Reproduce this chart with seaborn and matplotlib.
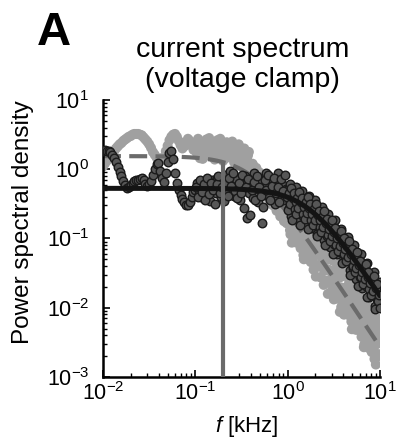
import numpy as np
import pandas as pd
import matplotlib
matplotlib.use("Agg")
import matplotlib.pyplot as plt
import seaborn as sns

# ---------------- data (log10 units) ----------------
# frequency bins, log10(f / kHz)
log_f = [
    -2.00, -1.98, -1.96, -1.94, -1.92, -1.90, -1.88, -1.86, -1.84, -1.82,
    -1.80, -1.78, -1.76, -1.74, -1.72, -1.70, -1.68, -1.66, -1.64, -1.62,
    -1.60, -1.58, -1.56, -1.54, -1.52, -1.50, -1.48, -1.46, -1.44, -1.42,
    -1.40, -1.38, -1.36, -1.34, -1.32, -1.30, -1.28, -1.26, -1.24, -1.22,
    -1.20, -1.18, -1.16, -1.14, -1.12, -1.10, -1.08, -1.06, -1.04, -1.02,
    -1.00, -0.98, -0.96, -0.94, -0.92, -0.90, -0.88, -0.86, -0.84, -0.82,
    -0.80, -0.78, -0.76, -0.74, -0.72, -0.70, -0.68, -0.66, -0.64, -0.62,
    -0.60, -0.58, -0.56, -0.54, -0.52, -0.50, -0.48, -0.46, -0.44, -0.42,
    -0.40, -0.38, -0.36, -0.34, -0.32, -0.30, -0.28, -0.26, -0.24, -0.22,
    -0.20, -0.18, -0.16, -0.14, -0.12, -0.10, -0.08, -0.06, -0.04, -0.02,
    0.00, 0.01, 0.02, 0.03, 0.04, 0.05, 0.06, 0.07, 0.08, 0.09,
    0.10, 0.11, 0.12, 0.13, 0.14, 0.15, 0.16, 0.17, 0.18, 0.19,
    0.20, 0.21, 0.22, 0.23, 0.24, 0.25, 0.26, 0.27, 0.28, 0.29,
    0.30, 0.31, 0.32, 0.33, 0.34, 0.35, 0.36, 0.37, 0.38, 0.39,
    0.40, 0.41, 0.42, 0.43, 0.44, 0.45, 0.46, 0.47, 0.48, 0.49,
    0.50, 0.51, 0.52, 0.53, 0.54, 0.55, 0.56, 0.57, 0.58, 0.59,
    0.60, 0.61, 0.62, 0.63, 0.64, 0.65, 0.66, 0.67, 0.68, 0.69,
    0.70, 0.71, 0.72, 0.73, 0.74, 0.75, 0.76, 0.77, 0.78, 0.79,
    0.80, 0.81, 0.82, 0.83, 0.84, 0.85, 0.86, 0.87, 0.88, 0.89,
    0.90, 0.91, 0.92, 0.93, 0.94, 0.95, 0.96, 0.97, 0.98, 0.99,
    1.00,
    # interleaved bins
    -0.99, -0.97, -0.95, -0.93, -0.91, -0.89, -0.87, -0.85, -0.83, -0.81,
    -0.79, -0.77, -0.75, -0.73, -0.71, -0.69, -0.67, -0.65, -0.63, -0.61,
    -0.59, -0.57, -0.55, -0.53, -0.51, -0.49, -0.47, -0.45, -0.43, -0.41,
    -0.39, -0.37, -0.35, -0.33, -0.31, -0.29, -0.27, -0.25, -0.23, -0.21,
    -0.19, -0.17, -0.15, -0.13, -0.11, -0.09, -0.07, -0.05, -0.03, -0.01,
    0.005, 0.015, 0.025, 0.035, 0.045, 0.055, 0.065, 0.075, 0.085, 0.095,
    0.105, 0.115, 0.125, 0.135, 0.145, 0.155, 0.165, 0.175, 0.185, 0.195,
    0.205, 0.215, 0.225, 0.235, 0.245, 0.255, 0.265, 0.275, 0.285, 0.295,
    0.305, 0.315, 0.325, 0.335, 0.345, 0.355, 0.365, 0.375, 0.385, 0.395,
    0.405, 0.415, 0.425, 0.435, 0.445, 0.455, 0.465, 0.475, 0.485, 0.495,
    0.505, 0.515, 0.525, 0.535, 0.545, 0.555, 0.565, 0.575, 0.585, 0.595,
    0.605, 0.615, 0.625, 0.635, 0.645, 0.655, 0.665, 0.675, 0.685, 0.695,
    0.705, 0.715, 0.725, 0.735, 0.745, 0.755, 0.765, 0.775, 0.785, 0.795,
    0.805, 0.815, 0.825, 0.835, 0.845, 0.855, 0.865, 0.875, 0.885, 0.895,
    0.905, 0.915, 0.925, 0.935, 0.945, 0.955, 0.965, 0.975, 0.985, 0.995,
]

# light-grey spectrum (dashed Lorentzian fit), log10 PSD
grey_log_psd = [
    0.04, 0.08, 0.12, 0.16, 0.19, 0.23, 0.26, 0.30, 0.33, 0.36,
    0.38, 0.41, 0.43, 0.45, 0.47, 0.48, 0.50, 0.51, 0.51, 0.51,
    0.50, 0.49, 0.46, 0.43, 0.40, 0.36, 0.31, 0.25, 0.21, 0.17,
    0.13, 0.12, 0.14, 0.18, 0.26, 0.34, 0.42, 0.47, 0.50, 0.51,
    0.47, 0.41, 0.35, 0.30, 0.33, 0.39, 0.44, 0.41, 0.34, 0.28,
    0.34, 0.22, 0.40, 0.28, 0.15, 0.36, 0.43, 0.25, 0.32, 0.18,
    0.38, 0.28, 0.42, 0.20, 0.33, 0.12, 0.30, 0.39, 0.18, 0.27,
    0.40, 0.10, 0.24, 0.33, 0.05, 0.20, 0.28, 0.02, 0.14, 0.25,
    -0.06, 0.08, -0.15, 0.02, -0.22, -0.08, -0.30, -0.14, -0.38, -0.22,
    -0.45, -0.30, -0.52, -0.36, -0.60, -0.44, -0.68, -0.50, -0.75, -0.58,
    -0.45, -0.77, -0.37, -0.94, -0.66, -0.48, -1.04, -0.66, -0.83, -0.45,
    -0.99, -0.65, -0.97, -0.57, -1.14, -0.85, -0.68, -1.24, -0.86, -1.03,
    -0.64, -1.19, -0.85, -1.17, -0.77, -1.34, -1.06, -0.89, -1.45, -1.07,
    -1.24, -0.86, -1.41, -1.07, -1.39, -0.99, -1.56, -1.28, -1.11, -1.67,
    -1.29, -1.46, -1.07, -1.62, -1.28, -1.60, -1.20, -1.77, -1.49, -1.32,
    -1.88, -1.50, -1.67, -1.29, -1.84, -1.50, -1.82, -1.42, -1.99, -1.71,
    -1.54, -2.10, -1.72, -1.89, -1.51, -2.06, -1.72, -2.03, -1.63, -2.20,
    -1.92, -1.75, -2.31, -1.93, -2.10, -1.72, -2.27, -1.93, -2.25, -1.85,
    -2.42, -2.14, -1.97, -2.53, -2.15, -2.32, -1.94, -2.49, -2.15, -2.47,
    -2.07, -2.64, -2.35, -2.18, -2.74, -2.36, -2.53, -2.15, -2.70, -2.36,
    -2.68,
    # interleaved bins
    0.26, 0.44, 0.16, 0.31, 0.38, 0.20, 0.35, 0.45, 0.24, 0.30,
    0.14, 0.36, 0.26, 0.44, 0.22, 0.34, 0.16, 0.29, 0.37, 0.21,
    0.30, 0.12, 0.26, 0.36, 0.10, 0.16, 0.30, 0.08, 0.20, 0.02,
    -0.10, 0.05, -0.05, -0.18, -0.04, -0.24, -0.10, -0.32, -0.18, -0.40,
    -0.26, -0.46, -0.32, -0.55, -0.40, -0.62, -0.48, -0.70, -0.55, -0.78,
    -0.72, -0.40, -0.88, -0.58, -1.06, -0.71, -0.55, -0.91, -0.47, -1.06,
    -0.75, -0.88, -0.71, -0.96, -0.63, -1.11, -0.81, -1.30, -0.95, -0.78,
    -1.14, -0.70, -1.30, -0.99, -1.12, -0.95, -1.20, -0.88, -1.36, -1.06,
    -1.55, -1.20, -1.04, -1.40, -0.96, -1.56, -1.25, -1.38, -1.21, -1.46,
    -1.14, -1.61, -1.31, -1.80, -1.45, -1.29, -1.65, -1.21, -1.81, -1.50,
    -1.63, -1.46, -1.71, -1.39, -1.87, -1.57, -2.06, -1.71, -1.55, -1.91,
    -1.47, -2.07, -1.76, -1.89, -1.72, -1.97, -1.64, -2.12, -1.82, -2.31,
    -1.96, -1.80, -2.16, -1.72, -2.32, -2.01, -2.14, -1.97, -2.22, -1.90,
    -2.38, -2.08, -2.57, -2.22, -2.06, -2.42, -1.98, -2.58, -2.27, -2.40,
    -2.23, -2.47, -2.15, -2.63, -2.33, -2.82, -2.47, -2.31, -2.67, -2.23,
]

# dark spectrum (solid Lorentzian fit), log10 PSD
dark_log_psd = [
    0.27, 0.28, 0.27, 0.26, 0.25, 0.21, 0.16, 0.10, 0.03, -0.04,
    -0.10, -0.17, -0.23, -0.27, -0.26, -0.23, -0.20, -0.17, -0.15, -0.16,
    -0.14, -0.12, -0.15, -0.21, -0.24, -0.22, -0.17, -0.08, 0.01, 0.08,
    0.09, -0.02, -0.13, -0.19, -0.06, 0.10, 0.23, 0.27, 0.15, -0.05,
    -0.20, -0.30, -0.37, -0.43, -0.47, -0.51, -0.52, -0.47, -0.40, -0.33,
    -0.30, -0.20, -0.36, -0.26, -0.42, -0.18, -0.31, -0.24, -0.46, -0.15,
    -0.28, -0.35, -0.12, -0.25, -0.40, -0.20, -0.08, -0.32, -0.22, -0.02,
    -0.27, -0.38, -0.14, -0.30, -0.45, -0.18, -0.25, -0.10, -0.70, -0.35,
    -0.20, -0.42, -0.06, -0.28, -0.48, -0.15, -0.78, -0.33, -0.05, -0.24,
    -0.40, -0.12, -0.30, -0.50, -0.18, -0.06, -0.36, -0.22, -0.45, -0.28,
    -0.29, -0.56, -0.22, -0.47, -0.68, -0.36, -0.54, -0.33, -0.60, -0.26,
    -0.52, -0.72, -0.40, -0.59, -0.38, -0.66, -0.32, -0.57, -0.78, -0.46,
    -0.65, -0.44, -0.72, -0.38, -0.64, -0.85, -0.53, -0.72, -0.51, -0.79,
    -0.45, -0.71, -0.93, -0.61, -0.80, -0.60, -0.88, -0.54, -0.80, -1.02,
    -0.70, -0.89, -0.69, -0.97, -0.64, -0.90, -1.12, -0.80, -1.00, -0.79,
    -1.08, -0.74, -1.01, -1.22, -0.91, -1.11, -0.90, -1.19, -0.86, -1.12,
    -1.34, -1.03, -1.22, -1.02, -1.31, -0.98, -1.24, -1.46, -1.15, -1.35,
    -1.14, -1.43, -1.10, -1.37, -1.59, -1.27, -1.47, -1.27, -1.56, -1.23,
    -1.50, -1.72, -1.40, -1.60, -1.40, -1.69, -1.36, -1.63, -1.85, -1.54,
    -1.73, -1.53, -1.82, -1.49, -1.76, -1.98, -1.67, -1.87, -1.67, -1.96,
    -1.63,
    # interleaved bins
    -0.25, -0.40, -0.16, -0.33, -0.22, -0.44, -0.12, -0.36, -0.20, -0.30,
    -0.50, -0.22, -0.10, -0.34, -0.26, -0.46, -0.18, -0.38, -0.12, -0.24,
    -0.05, -0.31, -0.42, -0.20, -0.34, -0.08, -0.56, -0.26, -0.14, -0.66,
    -0.30, -0.18, -0.44, -0.10, -0.26, -0.38, -0.55, -0.16, -0.30, -0.08,
    -0.44, -0.24, -0.12, -0.34, -0.26, -0.48, -0.14, -0.32, -0.08, -0.40,
    -0.59, -0.35, -0.50, -0.27, -0.73, -0.42, -0.35, -0.57, -0.48, -0.64,
    -0.41, -0.56, -0.33, -0.80, -0.48, -0.41, -0.64, -0.55, -0.72, -0.48,
    -0.63, -0.40, -0.87, -0.56, -0.50, -0.73, -0.64, -0.81, -0.58, -0.73,
    -0.50, -0.97, -0.66, -0.60, -0.83, -0.74, -0.91, -0.69, -0.84, -0.61,
    -1.09, -0.78, -0.72, -0.95, -0.86, -1.04, -0.81, -0.97, -0.74, -1.22,
    -0.91, -0.85, -1.09, -1.00, -1.18, -0.96, -1.11, -0.89, -1.36, -1.06,
    -1.00, -1.23, -1.15, -1.33, -1.11, -1.26, -1.04, -1.52, -1.22, -1.15,
    -1.39, -1.31, -1.49, -1.27, -1.42, -1.20, -1.68, -1.38, -1.32, -1.56,
    -1.48, -1.65, -1.43, -1.59, -1.37, -1.85, -1.55, -1.49, -1.73, -1.64,
    -1.82, -1.60, -1.76, -1.54, -2.02, -1.72, -1.66, -1.90, -1.82, -2.00,
]

# Lorentzian fits: amplitude and corner frequency (kHz)
grey_fit_amp, grey_fit_fc = 1.55, 0.42
dark_fit_amp, dark_fit_fc = 0.53, 1.70
marker_freq = 0.2  # kHz, vertical grey line

# ---------------- style ----------------
sns.set_style("ticks")
plt.rcParams["font.family"] = ["Liberation Sans", "DejaVu Sans"]
plt.rcParams["mathtext.fontset"] = "custom"
plt.rcParams["mathtext.rm"] = "Liberation Sans"
plt.rcParams["mathtext.it"] = "Liberation Sans:italic"
plt.rcParams["mathtext.bf"] = "Liberation Sans:bold"
for key in ["text.color", "axes.labelcolor", "xtick.color", "ytick.color"]:
    plt.rcParams[key] = "black"

freq = 10 ** np.array(log_f)
grey_df = pd.DataFrame({"f": freq, "psd": 10 ** np.array(grey_log_psd)})
dark_df = pd.DataFrame({"f": freq, "psd": 10 ** np.array(dark_log_psd)})

f_grid = np.logspace(-2, 1, 400)
fit_df = pd.DataFrame({
    "f": f_grid,
    "grey": grey_fit_amp / (1 + (f_grid / grey_fit_fc) ** 2),
    "dark": dark_fit_amp / (1 + (f_grid / dark_fit_fc) ** 2),
})

W, H = 397, 444
fig = plt.figure(figsize=(W / 100, H / 100), dpi=100)
ax = fig.add_axes([103 / W, 1 - 377 / H, 277 / W, 277 / H])
ax.set_xscale("log")
ax.set_yscale("log")

sns.scatterplot(data=grey_df, x="f", y="psd", ax=ax, color="#a0a0a0",
                s=52, edgecolor="none", linewidth=0, zorder=1, legend=False)
sns.lineplot(data=fit_df, x="f", y="grey", ax=ax, color="#6b6b6b",
             linewidth=3.0, zorder=2, legend=False)
ax.lines[-1].set_dashes([4.3, 2.0])
sns.scatterplot(data=dark_df, x="f", y="psd", ax=ax, color="#575757",
                s=38, edgecolor="#1a1a1a", linewidth=1.0, zorder=3, legend=False)
sns.lineplot(data=fit_df, x="f", y="dark", ax=ax, color="#141414",
             linewidth=3.6, zorder=4, legend=False)
vtop = grey_fit_amp / (1 + (marker_freq / grey_fit_fc) ** 2)
ax.vlines(marker_freq, 1e-3, vtop, color="#6b6b6b", linewidth=3.0, zorder=5)

ax.set_xlim(1e-2, 1e1)
ax.set_ylim(1e-3, 1e1)

for s in ["top", "right"]:
    ax.spines[s].set_visible(False)
for s in ["left", "bottom"]:
    ax.spines[s].set_linewidth(1.8)
    ax.spines[s].set_color("black")

ax.tick_params(which="both", direction="in", top=False, right=False, colors="black")
ax.tick_params(which="major", length=5, width=1.2, labelsize=15.5)
ax.tick_params(which="minor", length=3, width=1.0)
ax.tick_params(axis="y", which="major", pad=10)
ax.tick_params(axis="x", which="major", pad=4)
ax.set_xlabel("")
ax.set_ylabel("")

# labels and title placed at the reference pixel positions
fig.text(23 / W, 1 - 222 / H, "Power spectral density", fontsize=17.5,
         rotation=90, ha="center", va="center")
fig.text(247 / W, 1 - 432 / H, r"$\mathit{f}$ [kHz]", fontsize=16,
         ha="center", va="baseline")
fig.text(242.5 / W, 1 - 57 / H, "current spectrum", fontsize=20.5,
         ha="center", va="baseline")
fig.text(242.5 / W, 1 - 87 / H, "(voltage clamp)", fontsize=20.5,
         ha="center", va="baseline")
fig.text(37 / W, 1 - 45 / H, "A", fontsize=34, fontweight="bold",
         ha="left", va="baseline")

fig.savefig("out.png", dpi=100)
